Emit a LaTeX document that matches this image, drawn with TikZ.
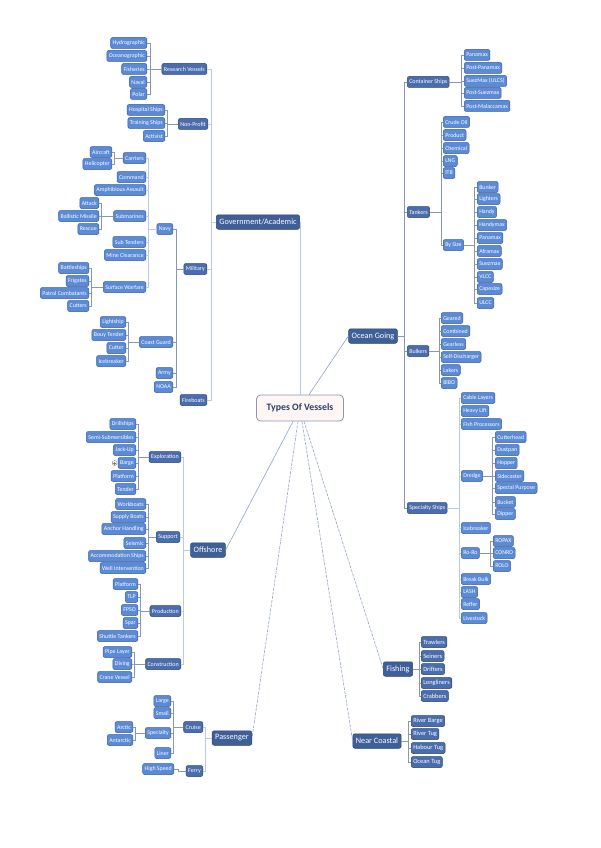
\documentclass[tikz,border=0pt]{standalone}
\usepackage{fontspec}
\setmainfont{Carlito}
\usetikzlibrary{calc}
\definecolor{leaf}{HTML}{5B8BD6}
\definecolor{leafb}{HTML}{3A5E9E}
\definecolor{midc}{HTML}{4A6DAE}
\definecolor{topc}{HTML}{3E5F98}
\definecolor{brc}{HTML}{8797B4}
\definecolor{lightc}{HTML}{B8CCE8}
\definecolor{cenc}{HTML}{8FA4C6}
\definecolor{rootf}{HTML}{FDF6F4}
\definecolor{roott}{HTML}{2D3F66}
\tikzset{
 base/.style={rounded corners=2pt, text=white, inner xsep=2pt, inner ysep=0pt, minimum height=11pt, line width=0.5pt, draw=leafb},
 leaf/.style={base, fill=leaf, font=\fontsize{5.9}{6}\selectfont},
 mid/.style={base, fill=midc, draw=topc!75!black, font=\fontsize{6}{6}\selectfont},
 top/.style={base, fill=topc, draw=topc!70!black, minimum height=14.5pt, inner xsep=3pt, font=\fontsize{8.2}{9}\selectfont},
 fleaf/.style={base, fill=midc, draw=topc!70!black, font=\fontsize{6.4}{7}\selectfont},
 br/.style={draw=brc, line width=0.6pt},
 lt/.style={draw=lightc, line width=0.8pt},
 cl/.style={draw=cenc, line width=0.6pt},
 cld/.style={cl, dash pattern=on 3pt off 1.2pt}
}
\newcommand\lb[4][br]{\foreach \ch in {#4}{\draw[#1] (#2.west) -- (perpendicular cs: horizontal line through={(#2.west)}, vertical line through={(#3,0)}) |- (\ch.east);}}
\newcommand\rb[4][br]{\foreach \ch in {#4}{\draw[#1] (#2.east) -- (perpendicular cs: horizontal line through={(#2.east)}, vertical line through={(#3,0)}) |- (\ch.west);}}
\begin{document}
\begin{tikzpicture}[x=1pt,y=-1pt]
\useasboundingbox (0,0) rectangle (600,848);
\fill[white] (0,0) rectangle (600,848);

% root
\node[rounded corners=4pt, fill=rootf, draw=brc, line width=0.8pt, minimum width=87pt, minimum height=26pt, text=roott, font=\bfseries\fontsize{9.8}{10}\selectfont] (root) at (300,408) {Types Of Vessels};

% level 1
\node[top] (gov) at (258,222) {Government/Academic};
\node[top] (og) at (373,336) {Ocean Going};
\node[top] (off) at (208,550) {Offshore};
\node[top] (pas) at (232,738) {Passenger};
\node[top] (fish) at (398,669) {Fishing};
\node[top] (nc) at (377,741) {Near Coastal};

% ---------- Government ----------
\node[mid,anchor=east] (rv) at (207,69) {Research Vessels};
\node[mid,anchor=east] (np) at (208,124) {Non-Profit};
\node[mid,anchor=east] (mil) at (207,269) {Military};
\node[mid,anchor=east] (fb) at (207,400) {Fireboats};

\node[leaf,anchor=east] (hyd) at (147,43) {Hydrographic};
\node[leaf,anchor=east] (oce) at (147,56) {Oceanographic};
\node[leaf,anchor=east] (fis) at (147,69) {Fisheries};
\node[leaf,anchor=east] (nav) at (147,82) {Naval};
\node[leaf,anchor=east] (pol) at (147,94) {Polar};

\node[leaf,anchor=east] (hos) at (165,110) {Hospital Ships};
\node[leaf,anchor=east] (tra) at (165,123) {Training Ships};
\node[leaf,anchor=east] (act) at (165,136) {Activist};

\node[leaf,anchor=east] (navy) at (173,229) {Navy};
\node[leaf,anchor=east] (cg) at (173,342) {Coast Guard};
\node[leaf,anchor=east] (army) at (173,373) {Army};
\node[leaf,anchor=east] (noaa) at (173,387) {NOAA};

\node[leaf,anchor=east] (car) at (146,158) {Carriers};
\node[leaf,anchor=east] (com) at (146,177) {Command};
\node[leaf,anchor=east] (amp) at (146,190) {Amphibious Assault};
\node[leaf,anchor=east] (sub) at (146,216) {Submarines};
\node[leaf,anchor=east] (subt) at (146,242) {Sub Tenders};
\node[leaf,anchor=east] (mine) at (146,255) {Mine Clearance};
\node[leaf,anchor=east] (sw) at (146,287) {Surface Warfare};

\node[leaf,anchor=east] (air) at (112,152) {Aircraft};
\node[leaf,anchor=east] (hel) at (112,164) {Helicopter};

\node[leaf,anchor=east] (att) at (99,203) {Attack};
\node[leaf,anchor=east] (bal) at (99,216) {Ballistic Missile};
\node[leaf,anchor=east] (res) at (99,229) {Rescue};

\node[leaf,anchor=east] (bat) at (89,268) {Battleships};
\node[leaf,anchor=east] (fri) at (89,281) {Frigates};
\node[leaf,anchor=east] (pat) at (89,293) {Patrol Combatants};
\node[leaf,anchor=east] (cut) at (89,306) {Cutters};

\node[leaf,anchor=east] (lig) at (126,322) {Lightship};
\node[leaf,anchor=east] (bou) at (126,335) {Bouy Tender};
\node[leaf,anchor=east] (cgc) at (126,348) {Cutter};
\node[leaf,anchor=east] (ice) at (126,361) {Icebreaker};

\lb[lt]{gov}{211}{rv,np,mil,fb}
\lb{rv}{150}{hyd,oce,fis,nav,pol}
\lb{np}{167}{hos,tra,act}
\lb{mil}{176}{navy,cg,army,noaa}
\lb[lt]{navy}{148}{car,com,amp,sub,subt,mine,sw}
\lb{car}{114}{air,hel}
\lb{sub}{101}{att,bal,res}
\lb{sw}{91}{bat,fri,pat,cut}
\lb{cg}{128}{lig,bou,cgc,ice}

% ---------- Ocean Going ----------
\node[mid,anchor=west] (cs) at (407,82) {Container Ships};
\node[mid,anchor=west] (tk) at (407,212) {Tankers};
\node[mid,anchor=west] (bk) at (407,351) {Bulkers};
\node[mid,anchor=west] (ss) at (407,508) {Specialty Ships};

\node[leaf,anchor=west] (c1) at (464,55) {Panamax};
\node[leaf,anchor=west] (c2) at (464,68) {Post-Panamax};
\node[leaf,anchor=west] (c3) at (464,81) {SuezMax (ULCS)};
\node[leaf,anchor=west] (c4) at (464,93) {Post-Suezmax};
\node[leaf,anchor=west] (c5) at (464,106) {Post-Malaccamax};

\node[leaf,anchor=west] (t1) at (443,122) {Crude Oil};
\node[leaf,anchor=west] (t2) at (443,135) {Product};
\node[leaf,anchor=west] (t3) at (443,148) {Chemical};
\node[leaf,anchor=west] (t4) at (443,161) {LNG};
\node[leaf,anchor=west] (t5) at (443,173) {ITB};
\node[leaf,anchor=west] (bs) at (443,245) {By Size};

\node[leaf,anchor=west] (s1) at (477,187) {Bunker};
\node[leaf,anchor=west] (s2) at (477,199) {Lighters};
\node[leaf,anchor=west] (s3) at (477,212) {Handy};
\node[leaf,anchor=west] (s4) at (477,225) {Handymax};
\node[leaf,anchor=west] (s5) at (477,238) {Panamax};
\node[leaf,anchor=west] (s6) at (477,251) {Aframax};
\node[leaf,anchor=west] (s7) at (477,264) {Suezmax};
\node[leaf,anchor=west] (s8) at (477,277) {VLCC};
\node[leaf,anchor=west] (s9) at (477,289) {Capesize};
\node[leaf,anchor=west] (s10) at (477,303) {ULCC};

\node[leaf,anchor=west] (b1) at (441,318) {Geared};
\node[leaf,anchor=west] (b2) at (441,331) {Combined};
\node[leaf,anchor=west] (b3) at (441,344) {Gearless};
\node[leaf,anchor=west] (b4) at (441,357) {Self-Discharger};
\node[leaf,anchor=west] (b5) at (441,370) {Lakers};
\node[leaf,anchor=west] (b6) at (441,383) {BIBO};

\node[leaf,anchor=west] (p1) at (461,398) {Cable Layers};
\node[leaf,anchor=west] (p2) at (461,411) {Heavy Lift};
\node[leaf,anchor=west] (p3) at (461,424) {Fish Processors};
\node[leaf,anchor=west] (dr) at (461,476) {Dredge};
\node[leaf,anchor=west] (p5) at (461,528) {Icebreaker};
\node[leaf,anchor=west] (ro) at (461,553) {Ro-Ro};
\node[leaf,anchor=west] (p7) at (461,579) {Break Bulk};
\node[leaf,anchor=west] (p8) at (461,592) {LASH};
\node[leaf,anchor=west] (p9) at (461,604) {Reffer};
\node[leaf,anchor=west] (p10) at (461,618) {Livestock};

\node[leaf,anchor=west] (d1) at (495,437) {Cutterhead};
\node[leaf,anchor=west] (d2) at (495,450) {Dustpan};
\node[leaf,anchor=west] (d3) at (495,463) {Hopper};
\node[leaf,anchor=west] (d4) at (495,476) {Sidecaster};
\node[leaf,anchor=west] (d5) at (495,488) {Special Purpose};
\node[leaf,anchor=west] (d6) at (495,502) {Bucket};
\node[leaf,anchor=west] (d7) at (495,514) {Dipper};

\node[leaf,anchor=west] (r1) at (493,541) {ROPAX};
\node[leaf,anchor=west] (r2) at (493,553) {CONRO};
\node[leaf,anchor=west] (r3) at (493,566) {ROLO};

\rb{og}{404}{cs,tk,bk,ss}
\rb{cs}{461}{c1,c2,c3,c4,c5}
\rb{tk}{441}{t1,t2,t3,t4,t5,bs}
\rb{bs}{474}{s1,s2,s3,s4,s5,s6,s7,s8,s9,s10}
\rb{bk}{439}{b1,b2,b3,b4,b5,b6}
\rb[lt]{ss}{459}{p1,p2,p3,dr,p5,ro,p7,p8,p9,p10}
\rb{dr}{492}{d1,d2,d3,d4,d5,d6,d7}
\rb{ro}{490}{r1,r2,r3}

% ---------- Offshore ----------
\node[mid,anchor=east] (exp) at (181,457) {Exploration};
\node[mid,anchor=east] (sup) at (180,537) {Support};
\node[mid,anchor=east] (prod) at (181,611) {Production};
\node[mid,anchor=east] (cons) at (181,664) {Construction};

\node[leaf,anchor=east] (e1) at (136,424) {Drillships};
\node[leaf,anchor=east] (e2) at (136,437) {Semi-Submersibles};
\node[leaf,anchor=east] (e3) at (136,450) {Jack-Up};
\node[leaf,anchor=east] (e4) at (136,463) {Barge};
\node[leaf,anchor=east] (e5) at (136,476) {Platform};
\node[leaf,anchor=east] (e6) at (136,489) {Tender};
\node[circle, draw=gray, fill=white, line width=0.4pt, minimum size=5pt, inner sep=0pt, anchor=east] (bicon) at ($(e4.west)+(-0.5,0)$) {};
\draw[gray, line width=0.4pt] ($(bicon)+(-1.5,0)$) -- ($(bicon)+(1.5,0)$) ($(bicon)+(0,-1.5)$) -- ($(bicon)+(0,1.5)$);

\node[leaf,anchor=east] (u1) at (146,504) {Workboats};
\node[leaf,anchor=east] (u2) at (146,517) {Supply Boats};
\node[leaf,anchor=east] (u3) at (146,529) {Anchor Handling};
\node[leaf,anchor=east] (u4) at (146,543) {Seismic};
\node[leaf,anchor=east] (u5) at (146,556) {Accommodation Ships};
\node[leaf,anchor=east] (u6) at (146,568) {Well Intervention};

\node[leaf,anchor=east] (o1) at (138,584) {Platform};
\node[leaf,anchor=east] (o2) at (138,597) {TLP};
\node[leaf,anchor=east] (o3) at (138,610) {FPSO};
\node[leaf,anchor=east] (o4) at (138,623) {Spar};
\node[leaf,anchor=east] (o5) at (138,636) {Shuttle Tankers};

\node[leaf,anchor=east] (k1) at (132,652) {Pipe Layer};
\node[leaf,anchor=east] (k2) at (132,664) {Diving};
\node[leaf,anchor=east] (k3) at (132,677) {Crane Vessel};

\lb[lt]{off}{183}{exp,sup,prod,cons}
\lb{exp}{138}{e1,e2,e3,e4,e5,e6}
\lb{sup}{148}{u1,u2,u3,u4,u5,u6}
\lb{prod}{140}{o1,o2,o3,o4,o5}
\lb{cons}{134}{k1,k2,k3}

% ---------- Passenger ----------
\node[mid,anchor=east] (cru) at (203,727) {Cruise};
\node[mid,anchor=east] (fer) at (203,771) {Ferry};
\node[leaf,anchor=east] (g1) at (171,701) {Large};
\node[leaf,anchor=east] (g2) at (171,713) {Small};
\node[leaf,anchor=east] (spe) at (171,733) {Specialty};
\node[leaf,anchor=east] (g4) at (171,753) {Liner};
\node[leaf,anchor=east] (ar) at (133,727) {Arctic};
\node[leaf,anchor=east] (an) at (133,740) {Antarctic};
\node[leaf,anchor=east] (hs) at (174,769) {High Speed};

\lb[lt]{pas}{205}{cru,fer}
\lb{cru}{173}{g1,g2,spe,g4}
\lb{spe}{135}{ar,an}
\lb{fer}{178}{hs}

% ---------- Fishing & Near Coastal ----------
\node[fleaf,anchor=west] (f1) at (421,642) {Trawlers};
\node[fleaf,anchor=west] (f2) at (421,656) {Seiners};
\node[fleaf,anchor=west] (f3) at (421,669) {Drifters};
\node[fleaf,anchor=west] (f4) at (421,683) {Longliners};
\node[fleaf,anchor=west] (f5) at (421,696) {Crabbers};

\node[fleaf,anchor=west] (n1) at (411,721) {River Barge};
\node[fleaf,anchor=west] (n2) at (411,734) {River Tug};
\node[fleaf,anchor=west] (n3) at (411,748) {Habour Tug};
\node[fleaf,anchor=west] (n4) at (411,762) {Ocean Tug};

\rb{fish}{419}{f1,f2,f3,f4,f5}
\rb{nc}{408}{n1,n2,n3,n4}

% ---------- central connectors ----------
\draw[lt] (gov.east) -| (root.north);
\draw[cl] ($(root.north)+(9,0)$) -- (og.west);
\draw[cl] ($(root.south)+(-7,0)$) -- (off.east);
\draw[cld] ($(root.south)+(-2,0)$) -- (pas.east);
\draw[cld] ($(root.south)+(4,0)$) -- (fish.west);
\draw[cld] ($(root.south)+(2,0)$) -- (nc.west);
\end{tikzpicture}
\end{document}
